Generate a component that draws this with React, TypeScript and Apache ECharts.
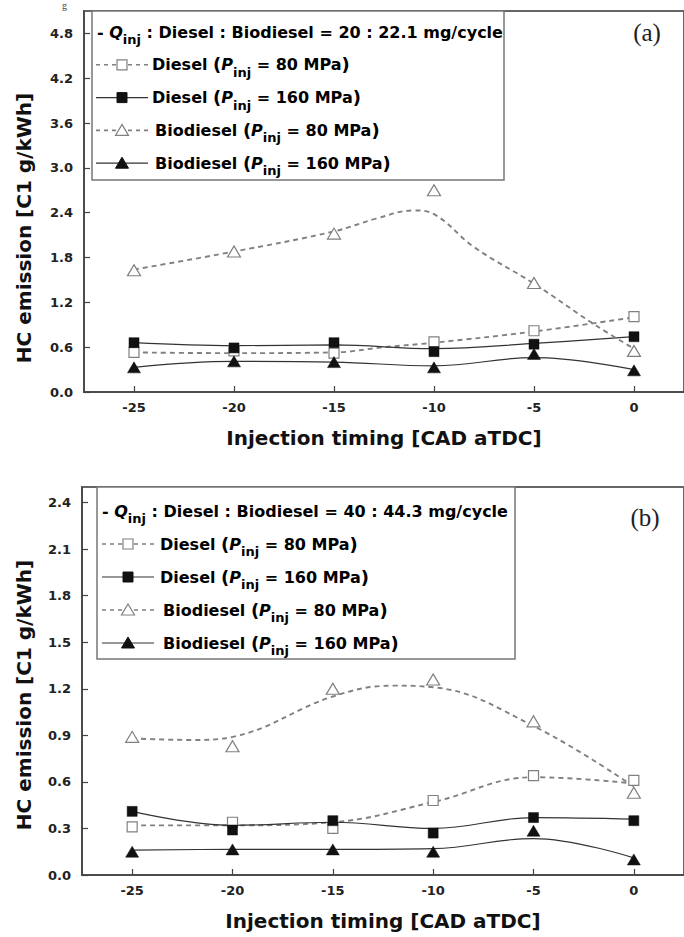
import React, { useEffect, useRef } from "react";
import * as echarts from "echarts";

const FONT = "DejaVu Sans";

// Injection timing (x) categories
const timings = [-25, -20, -15, -10, -5, 0];

// Panel (a) measured points
const aDiesel80 = [0.53, 0.55, 0.52, 0.67, 0.82, 1.01];
const aDiesel160 = [0.66, 0.59, 0.66, 0.54, 0.64, 0.74];
const aBio80 = [1.63, 1.88, 2.12, 2.7, 1.46, 0.55];
const aBio160 = [0.33, 0.41, 0.4, 0.33, 0.51, 0.29];

// Panel (a) fitted curves
const aDiesel80FitX = [-25, -20, -15, -12.5, -10, -5, 0];
const aDiesel80FitY = [0.53, 0.52, 0.53, 0.6, 0.66, 0.81, 1.0];
const aDiesel160FitX = [-25, -20, -15, -10, -5, 0];
const aDiesel160FitY = [0.66, 0.62, 0.63, 0.58, 0.65, 0.74];
const aBio80FitX = [-25, -20, -15, -12.9, -11, -10, -8, -5, -1.9, 0];
const aBio80FitY = [1.64, 1.88, 2.15, 2.32, 2.43, 2.38, 1.94, 1.45, 0.89, 0.58];
const aBio160FitX = [-25, -20, -15, -10, -5, 0];
const aBio160FitY = [0.33, 0.41, 0.4, 0.35, 0.46, 0.3];

// Panel (b) measured points
const bDiesel80 = [0.31, 0.34, 0.3, 0.48, 0.64, 0.61];
const bDiesel160 = [0.41, 0.29, 0.35, 0.27, 0.37, 0.35];
const bBio80 = [0.89, 0.83, 1.2, 1.26, 0.99, 0.53];
const bBio160 = [0.15, 0.165, 0.165, 0.15, 0.285, 0.1];

// Panel (b) fitted curves
const bDiesel80FitX = [-25, -20, -15, -10, -5, 0];
const bDiesel80FitY = [0.32, 0.32, 0.34, 0.47, 0.63, 0.59];
const bDiesel160FitX = [-25, -20, -15, -10, -5, 0];
const bDiesel160FitY = [0.41, 0.32, 0.34, 0.3, 0.37, 0.36];
const bBio80FitX = [-25, -22, -20, -15, -12, -10, -5, 0];
const bBio80FitY = [0.88, 0.87, 0.89, 1.15, 1.22, 1.21, 0.96, 0.57];
const bBio160FitX = [-25, -20, -15, -10, -5, 0];
const bBio160FitY = [0.16, 0.165, 0.165, 0.17, 0.235, 0.11];

// Tick labels
const aYTicks = [0, 0.6, 1.2, 1.8, 2.4, 3.0, 3.6, 4.2, 4.8];
const bYTicks = [0, 0.3, 0.6, 0.9, 1.2, 1.5, 1.8, 2.1, 2.4];

const panelTags = ["(a)", "(b)"];
const qRatios = ["20 : 22.1", "40 : 44.3"];
const legendFuel = ["Diesel", "Diesel", "Biodiesel", "Biodiesel"];
const legendPressure = ["80", "160", "80", "160"];
const xTitle = "Injection timing [CAD aTDC]";
const yTitle = "HC emission [C1 g/kWh]";

const DASH_COLOR = "#808080";
const SOLID_COLOR = "#333";
const OPEN_COLOR = "#808080";

const seriesStyles = [
  { dashed: true, symbol: "rect", filled: false },
  { dashed: false, symbol: "rect", filled: true },
  { dashed: true, symbol: "triangle", filled: false },
  { dashed: false, symbol: "triangle", filled: true },
];

const rich = {
  b: { fontFamily: FONT, fontWeight: "bold", fontSize: 16, color: "#111", verticalAlign: "middle" },
  i: { fontFamily: FONT, fontWeight: "bold", fontStyle: "italic", fontSize: 16, color: "#111", verticalAlign: "middle" },
  pr: { fontFamily: FONT, fontWeight: "bold", fontSize: 18, color: "#111", verticalAlign: "middle" },
  s: { fontFamily: FONT, fontWeight: "bold", fontSize: 13, color: "#111", lineHeight: 28, verticalAlign: "bottom" },
};

function legendGraphics(box: { x: number; y: number; w: number; h: number; row0: number; dy: number; sx: number; tx: number }, p: number) {
  const els: any[] = [];
  els.push({
    type: "rect",
    shape: { x: box.x, y: box.y, width: box.w, height: box.h },
    style: { fill: "#fff", stroke: "#777", lineWidth: 1.5 },
    z: 10,
  });
  els.push({
    type: "text",
    x: box.x + 5,
    y: box.row0,
    style: {
      text: `{b|- }{i|Q}{s|inj}{b| : Diesel : Biodiesel = ${qRatios[p]} mg/cycle}`,
      rich,
      verticalAlign: "middle",
    },
    z: 11,
  });
  for (let k = 0; k < 4; k++) {
    const cy = box.row0 + box.dy * (k + 1);
    const st = seriesStyles[k];
    const x0 = box.sx;
    const x1 = box.sx + 52;
    const mx = (x0 + x1) / 2;
    els.push({
      type: "line",
      shape: { x1: x0, y1: cy, x2: x1, y2: cy },
      style: st.dashed
        ? { stroke: DASH_COLOR, lineWidth: 1.6, lineDash: [4, 4] }
        : { stroke: SOLID_COLOR, lineWidth: 1.2 },
      z: 11,
    });
    if (st.symbol === "rect") {
      els.push({
        type: "rect",
        shape: { x: mx - 5, y: cy - 5, width: 10, height: 10 },
        style: st.filled ? { fill: "#111", stroke: "#111" } : { fill: "#fff", stroke: OPEN_COLOR, lineWidth: 1.2 },
        z: 12,
      });
    } else {
      els.push({
        type: "polygon",
        shape: { points: [[mx, cy - 6], [mx + 6.5, cy + 5], [mx - 6.5, cy + 5]] },
        style: st.filled ? { fill: "#111", stroke: "#111" } : { fill: "#fff", stroke: OPEN_COLOR, lineWidth: 1.2 },
        z: 12,
      });
    }
    els.push({
      type: "text",
      x: box.tx + (k >= 2 ? 3 : 0),
      y: cy,
      style: {
        text: `{b|${legendFuel[k]} }{pr|(}{i|P}{s|inj}{b| = ${legendPressure[k]} MPa}{pr|)}`,
        rich,
        verticalAlign: "middle",
      },
      z: 12,
    });
  }
  return els;
}

function pairs(xs: number[], ys: number[]) {
  return xs.map((x, i) => [x, ys[i]]);
}

export default function App() {
  const ref = useRef<HTMLDivElement>(null);
  useEffect(() => {
    if (!ref.current) return;
    const chart = echarts.init(ref.current, null, { renderer: "svg" });

    const grids = [
      { left: 84, top: 11, width: 608, height: 381 },
      { left: 82, top: 487, width: 610, height: 388 },
    ];
    const yMax = [5.1, 2.5];
    const yTicks = [aYTicks, bYTicks];
    const points = [
      [aDiesel80, aDiesel160, aBio80, aBio160],
      [bDiesel80, bDiesel160, bBio80, bBio160],
    ];
    const fits = [
      [pairs(aDiesel80FitX, aDiesel80FitY), pairs(aDiesel160FitX, aDiesel160FitY), pairs(aBio80FitX, aBio80FitY), pairs(aBio160FitX, aBio160FitY)],
      [pairs(bDiesel80FitX, bDiesel80FitY), pairs(bDiesel160FitX, bDiesel160FitY), pairs(bBio80FitX, bBio80FitY), pairs(bBio160FitX, bBio160FitY)],
    ];

    const series: any[] = [];
    for (let p = 0; p < 2; p++) {
      for (let k = 0; k < 4; k++) {
        const st = seriesStyles[k];
        series.push({
          type: "line",
          xAxisIndex: p,
          yAxisIndex: p,
          data: fits[p][k],
          smooth: 0.4,
          symbol: "none",
          lineStyle: st.dashed
            ? { color: DASH_COLOR, width: 1.9, type: [5, 4] }
            : { color: SOLID_COLOR, width: 1.2, type: "solid" },
          z: 3,
        });
      }
      for (let k = 0; k < 4; k++) {
        const st = seriesStyles[k];
        series.push({
          type: "scatter",
          xAxisIndex: p,
          yAxisIndex: p,
          data: pairs(timings, points[p][k]),
          symbol: st.symbol,
          symbolSize: st.symbol === "rect" ? 10 : [13, 11],
          itemStyle: st.filled
            ? { color: "#111", borderColor: "#111", borderWidth: 0.5, opacity: 1 }
            : { color: "#fff", borderColor: OPEN_COLOR, borderWidth: 1.2, opacity: 1 },
          z: 5,
        });
      }
    }

    const titleStyle = { text: yTitle, font: `bold 20px '${FONT}'`, fill: "#111", align: "center", verticalAlign: "middle" };

    const graphic: any[] = [
      ...legendGraphics({ x: 92, y: 11, w: 412, h: 169, row0: 32, dy: 32.8, sx: 96, tx: 152 }, 0),
      ...legendGraphics({ x: 97, y: 487, w: 418, h: 172, row0: 511, dy: 33, sx: 102, tx: 160 }, 1),
      { type: "text", x: 24, y: 228, rotation: Math.PI / 2, style: titleStyle, z: 12 },
      { type: "text", x: 24, y: 695, rotation: Math.PI / 2, style: titleStyle, z: 12 },
      {
        type: "text",
        x: 647,
        y: 32,
        style: { text: panelTags[0], font: "25px 'Liberation Serif'", fill: "#222", align: "center", verticalAlign: "middle" },
        z: 12,
      },
      {
        type: "text",
        x: 645,
        y: 517,
        style: { text: panelTags[1], font: "25px 'Liberation Serif'", fill: "#222", align: "center", verticalAlign: "middle" },
        z: 12,
      },
      {
        type: "text",
        x: 62,
        y: 0,
        style: { text: "g", font: "10px 'Liberation Serif'", fill: "#444", verticalAlign: "top" },
        z: 12,
      },
    ];

    chart.setOption({
      animation: false,
      backgroundColor: "#fff",
      grid: grids.map((g) => ({ ...g, show: true, borderColor: "#666", borderWidth: 2, backgroundColor: "transparent" })),
      xAxis: [0, 1].map((p) => ({
        type: "value",
        gridIndex: p,
        min: -27.5,
        max: 2.5,
        name: xTitle,
        nameLocation: "middle",
        nameGap: 36,
        nameTextStyle: { fontFamily: FONT, fontWeight: "bold", fontSize: 20, color: "#111" },
        axisLine: { show: true, onZero: false, lineStyle: { color: "#444", width: 1.5 } },
        axisTick: { show: true, inside: true, length: 6, customValues: timings, lineStyle: { color: "#444", width: 1.2 } },
        axisLabel: { customValues: timings, margin: 9, fontFamily: FONT, fontWeight: "bold", fontSize: 13, color: "#222" },
        splitLine: { show: false },
      })),
      yAxis: [0, 1].map((p) => ({
        type: "value",
        gridIndex: p,
        min: 0,
        max: yMax[p],
        axisLine: { show: true, onZero: false, lineStyle: { color: "#444", width: 1.5 } },
        axisTick: { show: true, inside: true, length: 6, customValues: yTicks[p], lineStyle: { color: "#444", width: 1.2 } },
        axisLabel: {
          customValues: yTicks[p],
          margin: 11,
          fontFamily: FONT,
          fontWeight: "bold",
          fontSize: 13,
          color: "#222",
          formatter: (v: number) => v.toFixed(1),
        },
        splitLine: { show: false },
      })),
      series,
      graphic,
    });
    return () => chart.dispose();
  }, []);
  return <div ref={ref} style={{ position: "absolute", left: 0, top: 0, width: 684, height: 937 }} />;
}
